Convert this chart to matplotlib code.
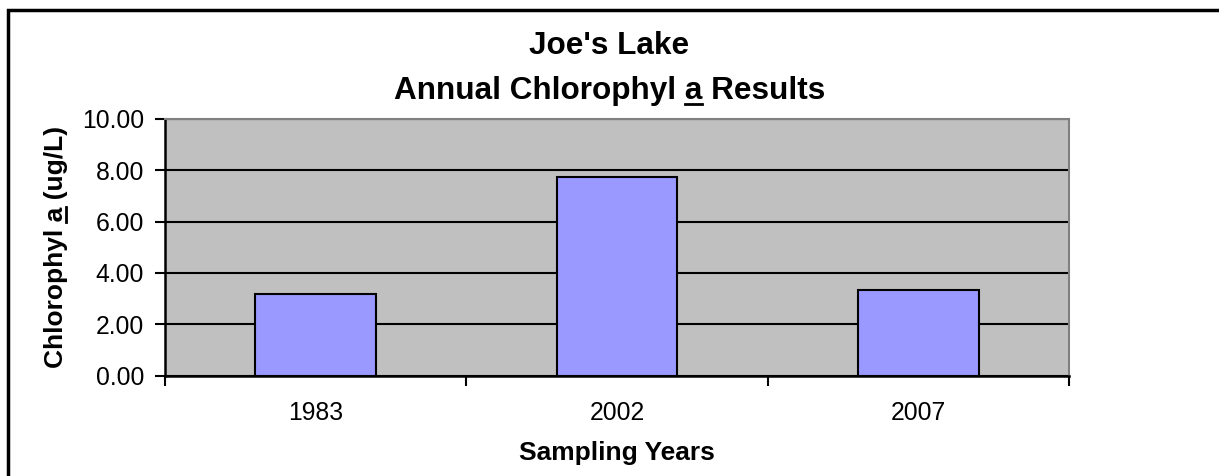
import matplotlib.pyplot as plt
from matplotlib.patches import Rectangle
from matplotlib.lines import Line2D

years = ["1983", "2002", "2007"]
chl_a = [3.18, 7.72, 3.32]
y_ticks = [0, 2, 4, 6, 8, 10]

plt.rcParams['font.family'] = ['Liberation Sans', 'DejaVu Sans']

W, H = 1219, 476
fig = plt.figure(figsize=(W / 100, H / 100), dpi=100)
ax = fig.add_axes([165 / W, 1 - 375.5 / H, (1069 - 165) / W, (375.5 - 119) / H])

ax.set_facecolor("#C0C0C0")
x = list(range(len(years)))
ax.bar(x, chl_a, width=0.4, color="#9999FF", edgecolor="black", linewidth=1.5, zorder=3)

# gridlines
ax.set_ylim(0, 10)
ax.set_yticks(y_ticks)
ax.set_yticklabels([f"{v:.2f}" for v in y_ticks])
ax.yaxis.grid(True, color="black", linewidth=1.5, zorder=1)
ax.set_axisbelow(True)

# category boundaries as major ticks, labels as minor ticks
ax.set_xlim(-0.5, len(years) - 0.5)
ax.set_xticks([i - 0.5 for i in range(len(years) + 1)])
ax.set_xticklabels([])
ax.set_xticks(x, minor=True)
ax.set_xticklabels(years, minor=True)
ax.tick_params(axis="x", which="major", direction="out", length=7, width=1.5, color="black")
ax.tick_params(axis="x", which="minor", length=0, pad=18, labelsize=17.8)
ax.tick_params(axis="y", direction="out", length=7, width=1.5, pad=8, labelsize=17.8)

for s in ["left", "bottom"]:
    ax.spines[s].set_color("black")
    ax.spines[s].set_linewidth(1.8)
for s in ["top", "right"]:
    ax.spines[s].set_color("#808080")
    ax.spines[s].set_linewidth(1.5)

ax.set_xlabel("Sampling Years", fontsize=19, fontweight="bold", labelpad=12)
ax.set_ylabel("Chlorophyl a (ug/L)", fontsize=19, fontweight="bold", labelpad=10)

t1 = fig.text(0.5, 1 - 46 / H, "Joe's Lake", ha="center", va="center",
              fontsize=22.7, fontweight="bold")
t2 = fig.text(0.5, 1 - 91 / H, "Annual Chlorophyl a Results", ha="center", va="center",
              fontsize=22.7, fontweight="bold")

# outer chart border (only top and left edges are in view)
fig.patches.append(Rectangle((8 / W, -0.1), 1.2, 1 - 10 / H + 0.1, transform=fig.transFigure,
                             fill=False, edgecolor="black", linewidth=2.5))

# underline the "a" in the title and the y label
fig.canvas.draw()
r = fig.canvas.get_renderer()


def width_of(txt, s):
    tmp = fig.text(0, 0, s, fontproperties=txt.get_fontproperties())
    w = tmp.get_window_extent(r).width
    tmp.remove()
    return w


bb = t2.get_window_extent(r)
w_pre = width_of(t2, "Annual Chlorophyl a")
w_a = width_of(t2, "a")
_, _, d = r.get_text_width_height_descent("Ag", t2.get_fontproperties(), ismath=False)
uy = bb.y0 + d * 0.35
fig.add_artist(Line2D([bb.x0 + w_pre - w_a, bb.x0 + w_pre], [uy, uy], transform=None,
                      color="black", linewidth=2))

yl = ax.yaxis.label
bb = yl.get_window_extent(r)
w_pre = width_of(yl, "Chlorophyl a")
w_a = width_of(yl, "a")
_, _, d = r.get_text_width_height_descent("Ag", yl.get_fontproperties(), ismath=False)
ux = bb.x1 - d * 0.35
fig.add_artist(Line2D([ux, ux], [bb.y0 + w_pre - w_a, bb.y0 + w_pre], transform=None,
                      color="black", linewidth=2))

fig.savefig("out.png", dpi=100)
